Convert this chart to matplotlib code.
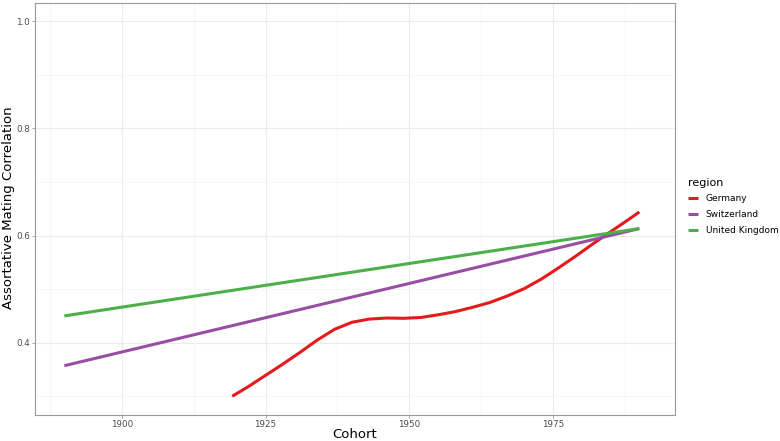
import matplotlib
matplotlib.use("Agg")
import matplotlib.pyplot as plt
from matplotlib.ticker import FixedLocator

# ---- data ----
germany_x = [1919.2, 1922, 1925, 1928, 1931, 1934, 1937, 1940, 1943, 1946, 1949,
             1952, 1955, 1958, 1961, 1964, 1967, 1970, 1973, 1976, 1979, 1982,
             1985, 1988, 1990]
germany_y = [0.300, 0.318, 0.339, 0.360, 0.382, 0.405, 0.425, 0.438, 0.444, 0.446,
             0.4455, 0.447, 0.452, 0.458, 0.466, 0.475, 0.487, 0.501, 0.519, 0.540,
             0.562, 0.585, 0.607, 0.629, 0.644]
switzerland_x = [1890, 1990]
switzerland_y = [0.357, 0.613]
uk_x = [1890, 1990]
uk_y = [0.450, 0.613]

regions = ["Germany", "Switzerland", "United Kingdom"]
colors = ["#E41A1C", "#984EA3", "#4DAF4A"]
x_ticks = [1900, 1925, 1950, 1975]
x_minor = [1887.5, 1912.5, 1937.5, 1962.5, 1987.5]
y_ticks = [0.4, 0.6, 0.8, 1.0]
y_minor = [0.3, 0.5, 0.7, 0.9]

W, H = 780, 441
fig = plt.figure(figsize=(W / 100, H / 100), dpi=100)
left, right, top, bottom = 35, 675, 3, 415
ax = fig.add_axes([left / W, 1 - bottom / H, (right - left) / W, (bottom - top) / H])

series = [(germany_x, germany_y), (switzerland_x, switzerland_y), (uk_x, uk_y)]
handles = []
for (xs, ys), name, c in zip(series, regions, colors):
    h, = ax.plot(xs, ys, color=c, lw=2.2, label=name, solid_capstyle="butt",
                 solid_joinstyle="round", zorder=3)
    handles.append(h)

ax.set_xlim(1884.9, 1996.2)
ax.set_ylim(0.265, 1.034)
ax.xaxis.set_major_locator(FixedLocator(x_ticks))
ax.xaxis.set_minor_locator(FixedLocator(x_minor))
ax.yaxis.set_major_locator(FixedLocator(y_ticks))
ax.yaxis.set_minor_locator(FixedLocator(y_minor))
ax.set_xticklabels([str(t) for t in x_ticks])
ax.set_yticklabels([f"{t:.1f}" for t in y_ticks])

ax.grid(which="major", color="#EBEBEB", lw=0.8, zorder=0)
ax.grid(which="minor", color="#F3F3F3", lw=0.5, zorder=0)
ax.set_axisbelow(True)
for s in ax.spines.values():
    s.set_color("#999999")
    s.set_linewidth(0.8)
ax.tick_params(which="major", length=2, width=0.6, color="#999999",
               labelsize=6.3, labelcolor="#4D4D4D", pad=1.5)
ax.tick_params(which="minor", length=0)

# axis titles placed in figure pixels
fig.text(355 / W, 1 - 437.5 / H, "Cohort", fontsize=9.5, color="black",
         ha="center", va="baseline")
fig.text(8.5 / W, 1 - 208 / H, "Assortative Mating Correlation", fontsize=9.5,
         color="black", ha="center", va="center", rotation=90)

leg = fig.legend(handles=handles, labels=regions, title="region",
                 loc="upper left", bbox_to_anchor=(684 / W, 1 - 174 / H),
                 frameon=False, fontsize=6.5, title_fontsize=8,
                 handlelength=1.1, handletextpad=0.9, labelspacing=0.75,
                 borderaxespad=0)
leg._legend_box.align = "left"

fig.savefig("out.png", dpi=100)
